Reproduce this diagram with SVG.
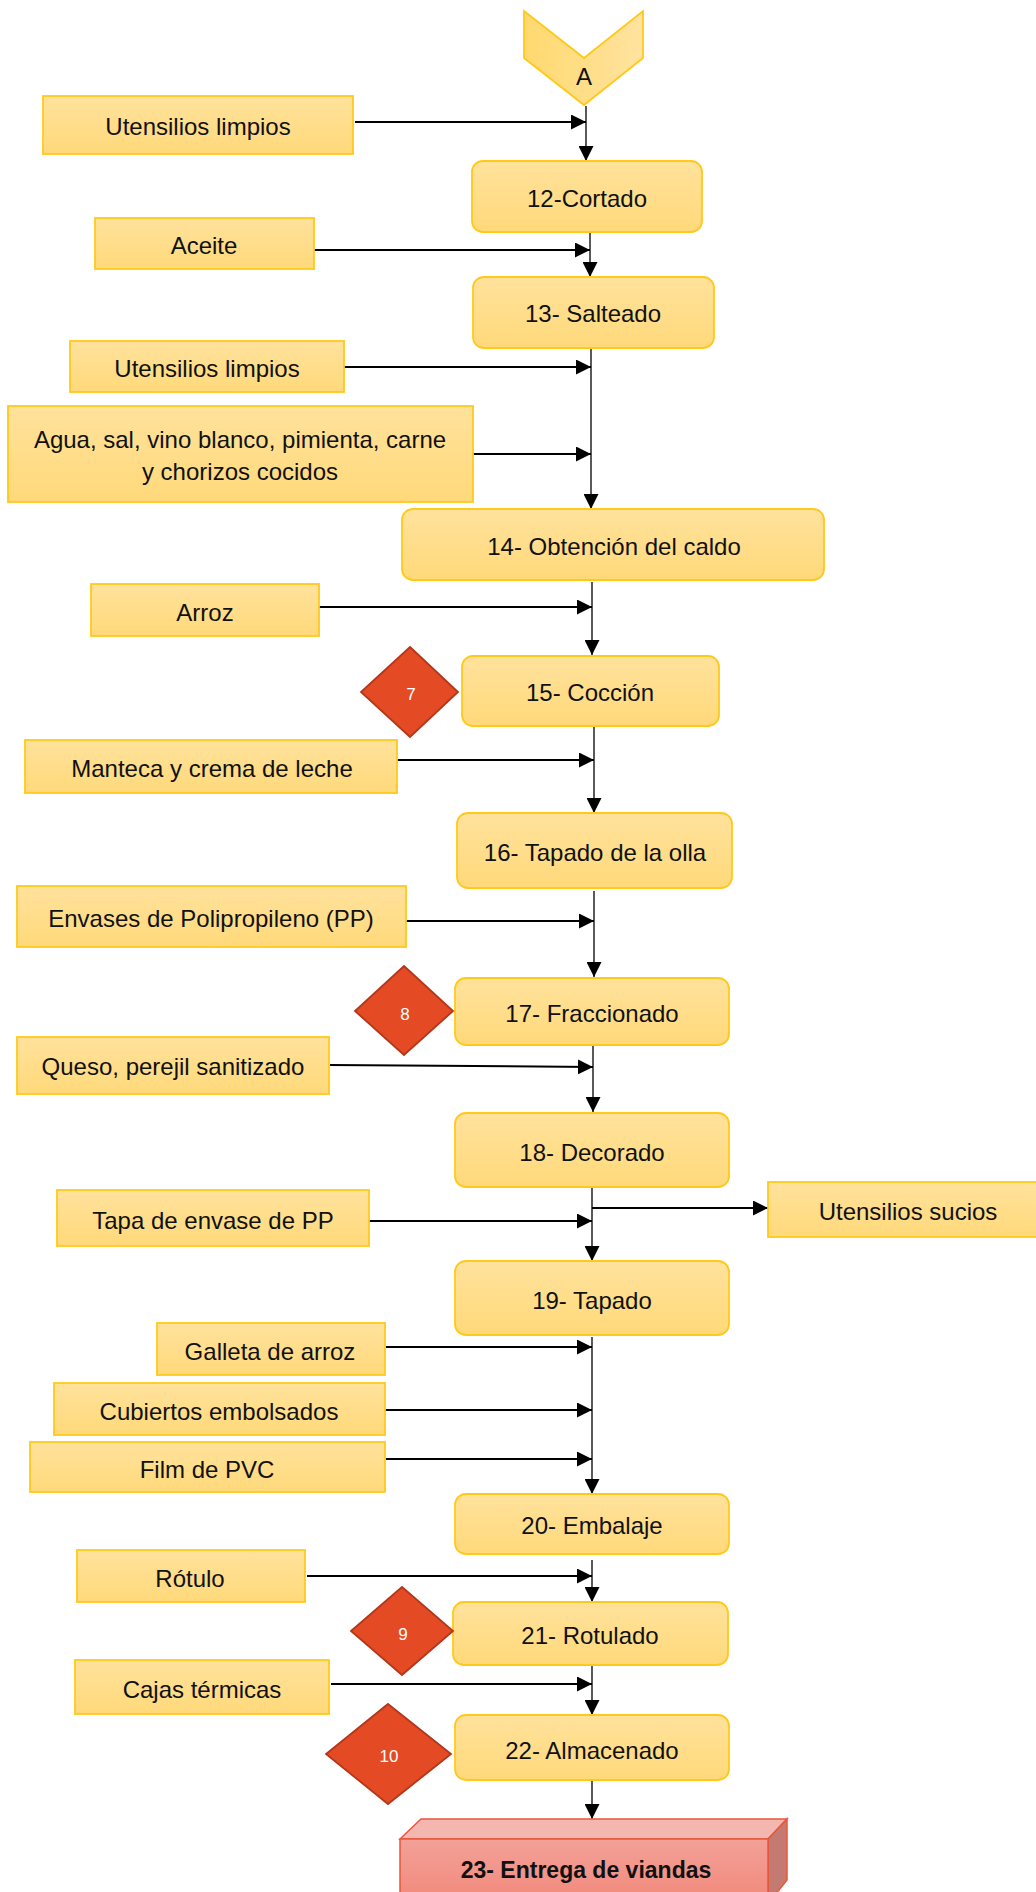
<svg xmlns="http://www.w3.org/2000/svg" width="1036" height="1892" viewBox="0 0 1036 1892">
<defs>
<linearGradient id="gy" x1="0" y1="0" x2="0" y2="1"><stop offset="0" stop-color="#FFE29C"/><stop offset="1" stop-color="#FFD97A"/></linearGradient>
<linearGradient id="gh" x1="0" y1="0" x2="1" y2="0"><stop offset="0" stop-color="#FFD96F"/><stop offset="1" stop-color="#FFE3A0"/></linearGradient>
<linearGradient id="gr" x1="0" y1="0" x2="0" y2="1"><stop offset="0" stop-color="#F2A198"/><stop offset="1" stop-color="#F28A7D"/></linearGradient>
<marker id="ah" viewBox="0 0 15 15" markerWidth="15" markerHeight="15" refX="15" refY="7.5" orient="auto" markerUnits="userSpaceOnUse"><path d="M0,0 L15,7.5 L0,15 Z" fill="#000"/></marker>
</defs>
<style>
.bx{fill:url(#gy);stroke:#FFC91A;stroke-width:1.8}
.st{fill:url(#gy);stroke:#FFC91A;stroke-width:1.8}
.t{font-family:"Liberation Sans",Arial,sans-serif;font-size:24px;fill:#111;text-anchor:middle;dominant-baseline:central}
.dm{fill:#E44A24;stroke:#B3371A;stroke-width:1.8}
.dt{font-family:"Liberation Sans",Arial,sans-serif;font-size:17px;fill:#fff;text-anchor:middle;dominant-baseline:central}
.v{stroke:#000;stroke-width:1.3;fill:none;marker-end:url(#ah)}
.h{stroke:#000;stroke-width:2;fill:none;marker-end:url(#ah)}
</style>

<g id="connectors">
<line class="v" x1="586" y1="106" x2="586" y2="161"/>
<line class="h" x1="355" y1="122" x2="586" y2="122"/>
<line class="v" x1="590" y1="233" x2="590" y2="277"/>
<line class="h" x1="312" y1="250" x2="590" y2="250"/>
<line class="v" x1="591" y1="348" x2="591" y2="509"/>
<line class="h" x1="344" y1="367" x2="591" y2="367"/>
<line class="h" x1="473" y1="454" x2="591" y2="454"/>
<line class="v" x1="592" y1="582" x2="592" y2="655"/>
<line class="h" x1="319" y1="607" x2="592" y2="607"/>
<line class="v" x1="594" y1="726" x2="594" y2="813"/>
<line class="h" x1="397" y1="760" x2="594" y2="760"/>
<line class="v" x1="594" y1="891" x2="594" y2="977"/>
<line class="h" x1="406" y1="921" x2="594" y2="921"/>
<line class="v" x1="593" y1="1045" x2="593" y2="1112"/>
<line class="h" x1="330" y1="1065" x2="593" y2="1067"/>
<line class="v" x1="592" y1="1187" x2="592" y2="1261"/>
<line class="h" x1="369" y1="1221" x2="592" y2="1221"/>
<line class="h" x1="592" y1="1208" x2="768" y2="1208"/>
<line class="v" x1="592" y1="1337" x2="592" y2="1494"/>
<line class="h" x1="386" y1="1347" x2="592" y2="1347"/>
<line class="h" x1="385" y1="1410" x2="592" y2="1410"/>
<line class="h" x1="386" y1="1459" x2="592" y2="1459"/>
<line class="v" x1="592" y1="1560" x2="592" y2="1602"/>
<line class="h" x1="307" y1="1576" x2="592" y2="1576"/>
<line class="v" x1="592" y1="1665" x2="592" y2="1715"/>
<line class="h" x1="331" y1="1684" x2="592" y2="1684"/>
<line class="v" x1="592" y1="1780" x2="592" y2="1819"/>
</g>

<g id="nodeA">
<path d="M524,11 L584,58 L643,11 L643,58 L584,105 L524,58 Z" fill="url(#gh)" stroke="#FFC91A" stroke-width="1.8"/>
<text class="t" x="584" y="76" style="font-size:24px">A</text>
</g>

<g id="in1"><rect class="st" x="43" y="96" width="310" height="58"/><text class="t" x="198" y="126">Utensilios limpios</text></g>
<g id="p12"><rect class="bx" x="472" y="161" width="230" height="71" rx="11"/><text class="t" x="587" y="198">12-Cortado</text></g>
<g id="in2"><rect class="st" x="95" y="218" width="219" height="51"/><text class="t" x="204" y="245">Aceite</text></g>
<g id="p13"><rect class="bx" x="473" y="277" width="241" height="71" rx="11"/><text class="t" x="593" y="313">13- Salteado</text></g>
<g id="in3"><rect class="st" x="70" y="341" width="274" height="51"/><text class="t" x="207" y="368">Utensilios limpios</text></g>
<g id="in4"><rect class="st" x="8" y="406" width="465" height="96"/><text class="t" x="240" y="439">Agua, sal, vino blanco, pimienta, carne</text><text class="t" x="240" y="471">y chorizos cocidos</text></g>
<g id="p14"><rect class="bx" x="402" y="509" width="422" height="71" rx="11"/><text class="t" x="614" y="546">14- Obtención del caldo</text></g>
<g id="in5"><rect class="st" x="91" y="584" width="228" height="52"/><text class="t" x="205" y="612">Arroz</text></g>
<g id="p15"><rect class="bx" x="462" y="656" width="257" height="70" rx="11"/><text class="t" x="590" y="692">15- Cocción</text></g>
<g id="pc7"><path class="dm" d="M410,647 L458,692 L410,737 L361,692 Z"/><text class="dt" x="411" y="694">7</text></g>
<g id="in6"><rect class="st" x="25" y="740" width="372" height="53"/><text class="t" x="212" y="768">Manteca y crema de leche</text></g>
<g id="p16"><rect class="bx" x="457" y="813" width="275" height="75" rx="11"/><text class="t" x="595" y="852">16- Tapado de la olla</text></g>
<g id="in7"><rect class="st" x="17" y="886" width="389" height="61"/><text class="t" x="211" y="918">Envases de Polipropileno (PP)</text></g>
<g id="p17"><rect class="bx" x="455" y="978" width="274" height="67" rx="11"/><text class="t" x="592" y="1013">17- Fraccionado</text></g>
<g id="pc8"><path class="dm" d="M404,966 L453,1011 L404,1055 L355,1011 Z"/><text class="dt" x="405" y="1014">8</text></g>
<g id="in8"><rect class="st" x="17" y="1037" width="312" height="57"/><text class="t" x="173" y="1066">Queso, perejil sanitizado</text></g>
<g id="p18"><rect class="bx" x="455" y="1113" width="274" height="74" rx="11"/><text class="t" x="592" y="1152">18- Decorado</text></g>
<g id="in9"><rect class="st" x="57" y="1190" width="312" height="56"/><text class="t" x="213" y="1220">Tapa de envase de PP</text></g>
<g id="out1"><rect class="st" x="768" y="1182" width="270" height="55"/><text class="t" x="908" y="1211">Utensilios sucios</text></g>
<g id="p19"><rect class="bx" x="455" y="1261" width="274" height="74" rx="11"/><text class="t" x="592" y="1300">19- Tapado</text></g>
<g id="in10"><rect class="st" x="157" y="1323" width="228" height="52"/><text class="t" x="270" y="1351">Galleta de arroz</text></g>
<g id="in11"><rect class="st" x="54" y="1383" width="331" height="52"/><text class="t" x="219" y="1411">Cubiertos embolsados</text></g>
<g id="in12"><rect class="st" x="30" y="1442" width="355" height="50"/><text class="t" x="207" y="1469">Film de PVC</text></g>
<g id="p20"><rect class="bx" x="455" y="1494" width="274" height="60" rx="11"/><text class="t" x="592" y="1525">20- Embalaje</text></g>
<g id="in13"><rect class="st" x="77" y="1550" width="228" height="52"/><text class="t" x="190" y="1578">Rótulo</text></g>
<g id="p21"><rect class="bx" x="453" y="1602" width="275" height="63" rx="11"/><text class="t" x="590" y="1635">21- Rotulado</text></g>
<g id="pc9"><path class="dm" d="M402,1587 L453,1631 L402,1675 L351,1631 Z"/><text class="dt" x="403" y="1634">9</text></g>
<g id="in14"><rect class="st" x="75" y="1660" width="254" height="54"/><text class="t" x="202" y="1689">Cajas térmicas</text></g>
<g id="p22"><rect class="bx" x="455" y="1715" width="274" height="65" rx="11"/><text class="t" x="592" y="1750">22- Almacenado</text></g>
<g id="pc10"><path class="dm" d="M388,1704 L451,1754 L388,1804 L326,1754 Z"/><text class="dt" x="389" y="1756">10</text></g>
<g id="p23">
<path d="M400,1839 L421,1819 L787,1819 L768,1839 Z" fill="#F4B7AF" stroke="#E8573C" stroke-width="1.5"/>
<path d="M768,1839 L787,1819 L787,1880 L775,1895 L768,1895 Z" fill="#C47A71" stroke="#E8573C" stroke-width="1.5"/>
<rect x="400" y="1839" width="368" height="60" fill="url(#gr)" stroke="#E8573C" stroke-width="1.5"/>
<text class="t" x="586" y="1870" style="font-weight:bold;font-size:23px">23- Entrega de viandas</text>
</g>
</svg>
